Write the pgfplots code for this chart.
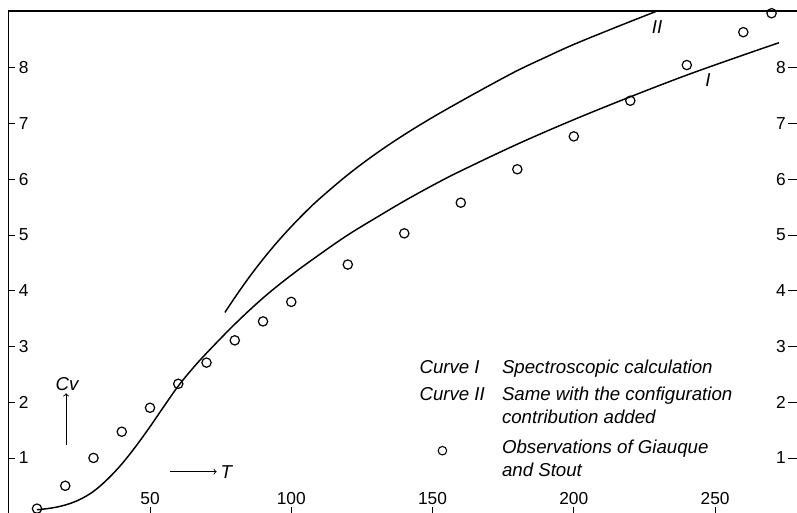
\documentclass[border=0pt]{standalone}
\usepackage{pgfplots}
\pgfplotsset{compat=1.18}
\usepackage{fontspec}
\setmainfont{Liberation Sans}
\begin{document}
\begin{tikzpicture}
\useasboundingbox (-6.56pt,0.5pt) rectangle (591.2pt,385.25pt);
\begin{axis}[
  at={(0,0)}, anchor=south west,
  scale only axis, width=591.2pt, height=377pt,
  xmin=0, xmax=279, ymin=0, ymax=9.02,
  axis x line=bottom, axis y line=left,
  axis line style={draw=none},
  tick align=inside, major tick length=5pt,
  xtick={50,100,150,200,250}, ytick={1,2,3,4,5,6,7,8},
  tick style={black, line width=0.6pt},
  /pgf/number format/assume math mode=true,
  ticklabel style={font=\fontsize{13}{15}\selectfont},
  yticklabel style={anchor=west, xshift=4pt},
  xticklabel style={anchor=south, yshift=3pt},
  clip=false,
]
\draw[line width=0.8pt] (rel axis cs:0,0) -- (rel axis cs:0,1) -- (rel axis cs:1,1);
% Curve I
\addplot[black, line width=1.1pt, smooth, tension=0.6] coordinates {
(10,0.07) (15,0.10) (20,0.155) (25,0.25) (30,0.40) (35,0.62) (40,0.89) (45,1.21)
(50,1.56) (55,1.93) (60,2.29) (65,2.60) (70,2.88) (80,3.40) (90,3.87) (100,4.28)
(110,4.65) (120,5.00) (130,5.31) (140,5.61) (150,5.89) (160,6.15) (180,6.63)
(200,7.07) (220,7.48) (240,7.87) (260,8.23) (272.6,8.45)};
% Curve II
\addplot[black, line width=1.1pt, smooth, tension=0.6] coordinates {
(76.5,3.61) (80,3.876) (85,4.236) (90,4.566) (95,4.871) (100,5.151) (105,5.411)
(110,5.651) (120,6.081) (130,6.461) (140,6.801) (150,7.111) (160,7.400)
(170,7.68) (180,7.95) (190,8.19) (200,8.42) (215,8.73) (229.5,9.02)};
% Observations
\addplot[only marks, mark=o, mark size=3.5pt, mark options={line width=0.9pt, black}] coordinates {
(10,0.09) (20,0.50) (30,1.00) (40,1.47) (50,1.90) (60,2.33) (70,2.71) (80,3.11)
(90,3.45) (100,3.80) (120,4.47) (140,5.03) (160,5.58) (180,6.18) (200,6.77)
(220,7.41) (240,8.05) (260,8.64) (270,8.98)};
% legend marker
\addplot[only marks, mark=o, mark size=3.2pt, mark options={line width=0.8pt, black}] coordinates {(153.5,1.13)};
\begin{scope}[every node/.style={font=\itshape\fontsize{14}{16}\selectfont, inner sep=0pt}]
\node[anchor=base west] at (axis cs:145.3,2.508) {Curve I};
\node[anchor=base west] at (axis cs:174.5,2.508) {Spectroscopic calculation};
\node[anchor=base west] at (axis cs:145.3,2.023) {Curve II};
\node[anchor=base west] at (axis cs:174.5,2.023) {Same with the configuration};
\node[anchor=base west] at (axis cs:174.5,1.61) {contribution added};
\node[anchor=base west] at (axis cs:174.5,1.075) {Observations of Giauque};
\node[anchor=base west] at (axis cs:174.5,0.66) {and Stout};
\node at (axis cs:229.5,8.74) {II};
\node at (axis cs:247.5,7.78) {I};
\node at (axis cs:20.6,2.33) {Cv};
\node at (axis cs:77,0.754) {T};
\end{scope}
\draw[->, line width=0.7pt] (axis cs:20.3,1.23) -- (axis cs:20.3,2.16);
\draw[->, line width=0.7pt] (axis cs:57.1,0.754) -- (axis cs:73.6,0.754);
\end{axis}
\begin{axis}[
  at={(0,0)}, anchor=south west,
  scale only axis, width=591.2pt, height=377pt,
  xmin=0, xmax=279, ymin=0, ymax=9.02,
  axis y line=right, axis x line=none,
  axis line style={draw=none},
  tick align=inside, major tick length=7pt,
  ytick={1,2,3,4,5,6,7,8},
  tick style={black, line width=0.6pt},
  /pgf/number format/assume math mode=true,
  ticklabel style={font=\fontsize{13}{15}\selectfont},
  yticklabel style={anchor=east, xshift=-5pt},
]
\end{axis}
\end{tikzpicture}
\end{document}
